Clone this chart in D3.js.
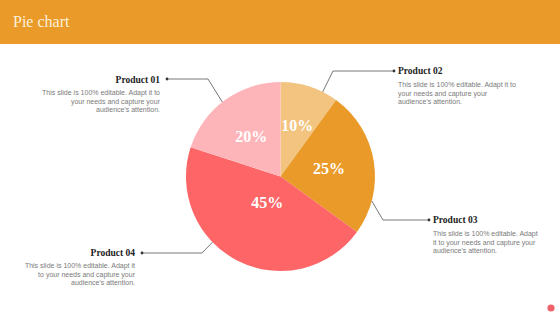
<!DOCTYPE html>
<html>
<head>
<meta charset="utf-8">
<script src="https://cdn.jsdelivr.net/npm/d3@7"></script>
<style>
  html, body { margin: 0; padding: 0; background: #fff; }
  svg { display: block; }
</style>
</head>
<body>
<svg id="chart" width="560" height="315"></svg>
<script>
// slices, clockwise from 12 o'clock
const sliceValues = [10, 25, 45, 20];
const sliceLabels = ["10%", "25%", "45%", "20%"];
const sliceColors = ["#F3C47F", "#EA9A28", "#FE6567", "#FEB5BA"];

// callout texts
const productNames = ["Product 01", "Product 02", "Product 03", "Product 04"];
const productDescs = [
  ["This slide is 100% editable. Adapt it to", "your needs and capture your", "audience's attention."],
  ["This slide is 100% editable. Adapt it to", "your needs and capture your", "audience's attention."],
  ["This slide is 100% editable. Adapt", "it to your needs and capture your", "audience's attention."],
  ["This slide is 100% editable. Adapt it", "to your needs and capture your", "audience's attention."]
];

const svg = d3.select("#chart");
const W = 560, H = 315;

// header bar
svg.append("rect")
  .attr("x", 0).attr("y", 0)
  .attr("width", W).attr("height", 44)
  .attr("fill", "#EA9A28");

svg.append("text")
  .attr("x", 13).attr("y", 27)
  .style("font-family", "'Liberation Serif', 'DejaVu Serif', serif")
  .style("font-size", "16px")
  .style("fill", "#FDF0DA")
  .text("Pie chart");

// pie
const cx = 280.5, cy = 176.5, R = 94.5;

const pie = d3.pie().value(d => d).sort(null);
const arc = d3.arc().innerRadius(0).outerRadius(R);
const arcs = pie(sliceValues);

const g = svg.append("g")
  .attr("transform", `translate(${cx}, ${cy})`);

g.selectAll(".slice")
  .data(arcs)
  .enter()
  .append("path")
  .attr("class", "slice")
  .attr("d", arc)
  .attr("fill", (d, i) => sliceColors[i]);

// label radius per slice (layout only)
const labelRadius = [54, 49, 29, 50];
g.selectAll(".pct")
  .data(arcs)
  .enter()
  .append("text")
  .attr("class", "pct")
  .attr("x", (d, i) => labelRadius[i] * Math.sin((d.startAngle + d.endAngle) / 2))
  .attr("y", (d, i) => -labelRadius[i] * Math.cos((d.startAngle + d.endAngle) / 2))
  .attr("dy", "0.35em")
  .attr("text-anchor", "middle")
  .style("font-family", "'Liberation Serif', 'DejaVu Serif', serif")
  .style("font-size", "16px")
  .style("font-weight", "bold")
  .style("fill", "#fff")
  .text((d, i) => sliceLabels[i]);

// callouts: angle on rim (deg), elbow point, end x, text side
const callouts = [
  { angle: 322, elbow: [208, 79], end: 167, side: "left",  titleY: 83,  descY: 95 },
  { angle: 26.5, elbow: [333, 71], end: 394, side: "right", titleY: 74,  descY: 87 },
  { angle: 105, elbow: [383, 220], end: 429, side: "right", titleY: 223, descY: 236 },
  { angle: 226, elbow: [202, 253], end: 142, side: "left",  titleY: 256, descY: 268 }
];

const lineG = svg.append("g");
callouts.forEach((c, i) => {
  const a = c.angle * Math.PI / 180;
  const px = cx + R * Math.sin(a);
  const py = cy - R * Math.cos(a);
  lineG.append("polyline")
    .attr("points", `${px},${py} ${c.elbow[0]},${c.elbow[1]} ${c.end},${c.elbow[1]}`)
    .attr("fill", "none")
    .attr("stroke", "#555")
    .attr("stroke-width", 0.8);
  lineG.append("circle")
    .attr("cx", c.end).attr("cy", c.elbow[1])
    .attr("r", 1.4)
    .attr("fill", "#333");

  const tx = c.side === "left" ? c.end - 7 : c.end + 4;
  const anchor = c.side === "left" ? "end" : "start";

  svg.append("text")
    .attr("x", tx).attr("y", c.titleY)
    .attr("text-anchor", anchor)
    .style("font-family", "'Liberation Serif', 'DejaVu Serif', serif")
    .style("font-size", "9.5px")
    .style("font-weight", "bold")
    .style("fill", "#222")
    .text(productNames[i]);

  svg.append("text")
    .attr("text-anchor", anchor)
    .style("font-family", "'Liberation Sans', Arial, sans-serif")
    .style("font-size", "7px")
    .style("fill", "#7a7a7a")
    .selectAll("tspan")
    .data(productDescs[i])
    .enter()
    .append("tspan")
    .attr("x", tx)
    .attr("y", (d, j) => c.descY + j * 8.5)
    .text(d => d);
});

// page number dot
svg.append("circle")
  .attr("cx", 551).attr("cy", 308)
  .attr("r", 3.6)
  .attr("fill", "#F0616A");
</script>
</body>
</html>
